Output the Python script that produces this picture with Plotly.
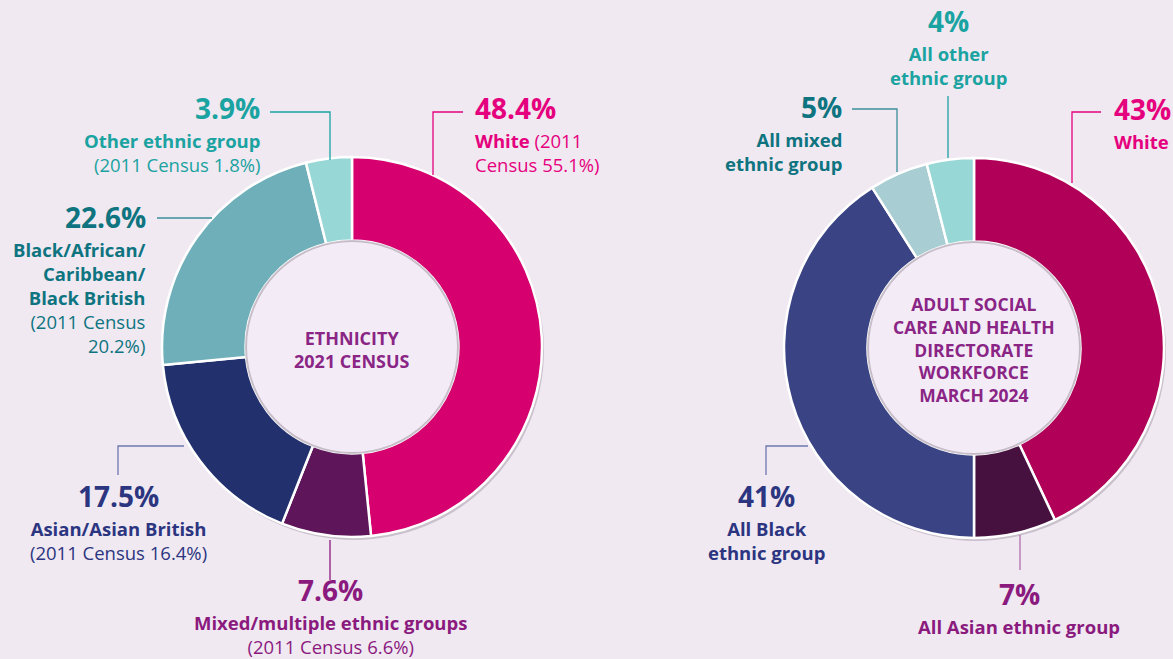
import plotly.graph_objects as go

W, H = 1173, 659

# ---- Data ----
census_groups = ["White", "Mixed/multiple ethnic groups", "Asian/Asian British",
                 "Black/African/Caribbean/Black British", "Other ethnic group"]
census_2021 = [48.4, 7.6, 17.5, 22.6, 3.9]
census_2011 = [55.1, 6.6, 16.4, 20.2, 1.8]

workforce_groups = ["White", "All Asian ethnic group", "All Black ethnic group",
                    "All mixed ethnic group", "All other ethnic group"]
workforce_2024 = [43, 7, 41, 5, 4]

census_colors = ["#D6006F", "#5E1559", "#23306E", "#6FAFB9", "#97D8D6"]
workforce_colors = ["#B00058", "#46103F", "#3A4485", "#A8CDD2", "#97D8D6"]

PINK = "#E5007D"
PURPLE = "#8B1A7E"
NAVY = "#2B3580"
DTEAL = "#0E7480"
TEAL = "#1AA3A0"
CENTER = "#8A2585"
FONT = "Open Sans"

def dom(cx, cy, r):
    return dict(x=[(cx - r) / W, (cx + r) / W], y=[1 - (cy + r) / H, 1 - (cy - r) / H])

fig = go.Figure()
fig.add_trace(go.Pie(labels=census_groups, values=census_2021, hole=0.56, sort=False,
                     direction="clockwise", rotation=0, textinfo="none", hoverinfo="label+value",
                     marker=dict(colors=census_colors, line=dict(color="white", width=2.5)),
                     domain=dom(352, 347, 190), showlegend=False))
fig.add_trace(go.Pie(labels=workforce_groups, values=workforce_2024, hole=0.56, sort=False,
                     direction="clockwise", rotation=0, textinfo="none", hoverinfo="label+value",
                     marker=dict(colors=workforce_colors, line=dict(color="white", width=2.5)),
                     domain=dom(974, 348, 190), showlegend=False))

BIG, MID = 28, 18.5

ann = []
def block(x, base1, anchor, color, big, lines):
    """Big percentage annotation, with the label lines in a second annotation below it."""
    ann.append(dict(x=x, y=(base1 - 2.5) - 1.069 * BIG, xref="x", yref="y", text=f"<b>{big}</b>",
                    showarrow=False, xanchor=anchor, yanchor="top", align=anchor,
                    borderpad=0, font=dict(family=FONT, size=BIG, color=color)))
    ann.append(dict(x=x, y=(base1 + 26.5) - 1.069 * MID, xref="x", yref="y",
                    text="<br>".join(lines), showarrow=False, xanchor=anchor, yanchor="top",
                    align=anchor, borderpad=0, font=dict(family=FONT, size=MID, color=color)))

def pct(v):
    return f"{v}%"

def b(s):
    return f"<b>{s}</b>"

# Left chart labels
block(261, 120, "right", TEAL, pct(census_2021[4]),
      [b("Other ethnic group"), f"(2011 Census {census_2011[4]}%)"])
block(147, 229, "right", DTEAL, pct(census_2021[3]),
      [b("Black/African/"), b("Caribbean/"), b("Black British"), "(2011 Census",
       f"{census_2011[3]}%)"])
block(474, 120, "left", PINK, pct(census_2021[0]),
      [b("White") + " (2011", f"Census {census_2011[0]}%)"])
block(118, 508, "center", NAVY, pct(census_2021[2]),
      [b("Asian/Asian British"), f"(2011 Census {census_2011[2]}%)"])
block(330, 602.5, "center", PURPLE, pct(census_2021[1]),
      [b("Mixed/multiple ethnic groups"), f"(2011 Census {census_2011[1]}%)"])

# Right chart labels
block(948, 33, "center", TEAL, pct(workforce_2024[4]), [b("All other"), b("ethnic group")])
block(843, 119, "right", DTEAL, pct(workforce_2024[3]), [b("All mixed"), b("ethnic group")])
block(1113, 121, "left", PINK, pct(workforce_2024[0]), [b("White")])
block(766, 508, "center", NAVY, pct(workforce_2024[2]), [b("All Black"), b("ethnic group")])
block(1019, 606, "center", PURPLE, pct(workforce_2024[1]), [b("All Asian ethnic group")])

shapes = []
# soft drop shadow under each ring (drawn below the pies)
for cx, cy in [(352, 347), (974, 348)]:
    r = 190
    shapes.append(dict(type="circle", xref="x", yref="y", x0=cx - r + 2, x1=cx + r + 2,
                       y0=cy - r + 3, y1=cy + r + 3, fillcolor="rgba(70,50,70,0.22)",
                       line=dict(width=0), layer="below"))
# hole fills with a soft inner edge
for cx, cy in [(352, 347), (974, 348)]:
    r = 106
    shapes.append(dict(type="circle", xref="x", yref="y", x0=cx - r, x1=cx + r,
                       y0=cy - r, y1=cy + r, fillcolor="#F3ECF7",
                       line=dict(color="rgba(110,90,110,0.35)", width=2), layer="above"))

# center titles
for cx, cy, t, fs in [(352, 349, "ETHNICITY<br>2021 CENSUS", 18),
                      (974, 349, "ADULT SOCIAL<br>CARE AND HEALTH<br>DIRECTORATE<br>WORKFORCE<br>MARCH 2024", 17.5)]:
    ann.append(dict(x=cx, y=cy, xref="x", yref="y", text=f"<b>{t}</b>", showarrow=False,
                    xanchor="center", yanchor="middle",
                    font=dict(family=FONT, size=fs, color=CENTER)))

def path(pts, color):
    d = "M " + " L ".join(f"{x},{y}" for x, y in pts)
    shapes.append(dict(type="path", path=d, xref="x", yref="y",
                       line=dict(color=color, width=1.3), layer="above"))

path([(270, 112), (330, 112), (330, 160)], TEAL)
path([(157, 218), (212, 218)], "#3A8E9A")
path([(463, 112), (433, 112), (433, 175)], PINK)
path([(118, 475), (118, 446), (184, 446)], "#6E78B0")
path([(330, 540), (330, 580)], PURPLE)

path([(948, 96), (948, 158)], TEAL)
path([(852, 109), (897, 109), (897, 172)], "#3A8E9A")
path([(1101, 112), (1072, 112), (1072, 183)], PINK)
path([(766, 475), (766, 446), (808, 446)], "#6E78B0")
path([(1020, 535), (1020, 570)], "#B070A8")

fig.update_layout(
    width=W, height=H, margin=dict(l=0, r=0, t=0, b=0),
    paper_bgcolor="#F0E9F2", plot_bgcolor="rgba(0,0,0,0)",
    xaxis=dict(range=[0, W], visible=False, fixedrange=True),
    yaxis=dict(range=[H, 0], visible=False, fixedrange=True),
    annotations=ann, shapes=shapes, showlegend=False,
)
fig.write_html("out.html", config={"displayModeBar": False},
               post_script="document.body.style.margin='0';document.body.style.overflow='hidden';")
